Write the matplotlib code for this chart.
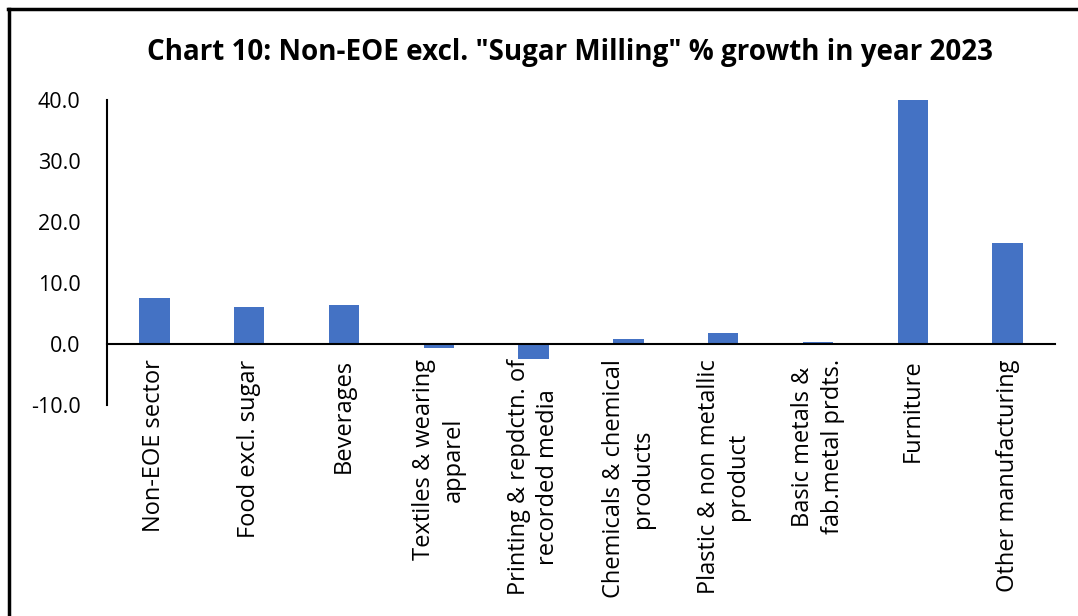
import matplotlib
matplotlib.use('Agg')
from matplotlib import pyplot as plt
from matplotlib.lines import Line2D

# datos del grafico
sectores = ['Non-EOE sector', 'Food excl. sugar', 'Beverages',
            'Textiles & wearing\napparel', 'Printing & repdctn. of\nrecorded media',
            'Chemicals & chemical\nproducts', 'Plastic & non metallic\nproduct',
            'Basic metals &\nfab.metal prdts.', 'Furniture', 'Other manufacturing']
crecimiento = [7.5, 6.0, 6.4, -0.7, -2.4, 0.8, 1.75, 0.4, 40.0, 16.6]
marcas_y = [-10, 0, 10, 20, 30, 40]

plt.rcParams['font.family'] = ['Open Sans', 'DejaVu Sans']

fig = plt.figure(figsize=(10.78, 6.16), dpi=100)
ax = fig.add_axes([0.0993, 0.3425, 0.8794, 0.4952])

indice = range(len(sectores))
ax.bar(indice, crecimiento, width=0.32, color='#4472C4')

# el eje x pasa por el cero (antes de poner las etiquetas)
for lado in ['top', 'right']:
    ax.spines[lado].set_visible(False)
ax.spines['bottom'].set_position(('data', 0))
ax.spines['bottom'].set_linewidth(1.5)
ax.spines['left'].set_linewidth(1.5)

ax.set_xlim(-0.5, len(sectores) - 0.5)
ax.set_ylim(-10, 40)
ax.set_yticks(marcas_y)
ax.set_yticklabels(['%.1f' % v for v in marcas_y], fontsize=15.5)
ax.set_xticks(list(indice))
ax.set_xticklabels(sectores, rotation=90, fontsize=17, ha='center', va='top',
                   multialignment='center', linespacing=1.3)
ax.tick_params(axis='x', length=0, pad=11)
ax.tick_params(axis='y', length=0, pad=19)

fig.text(0.529, 0.914, 'Chart 10: Non-EOE excl. "Sugar Milling" % growth in year 2023',
         ha='center', va='center', fontsize=20, fontweight='bold')

# marco de la imagen (solo arriba e izquierda)
fig.add_artist(Line2D([0.0075, 1.0], [1 - 9 / 616, 1 - 9 / 616], color='black', linewidth=2.5))
fig.add_artist(Line2D([9 / 1078, 9 / 1078], [0.0, 1 - 9 / 616], color='black', linewidth=2.5))

fig.savefig('out.png', dpi=100)
